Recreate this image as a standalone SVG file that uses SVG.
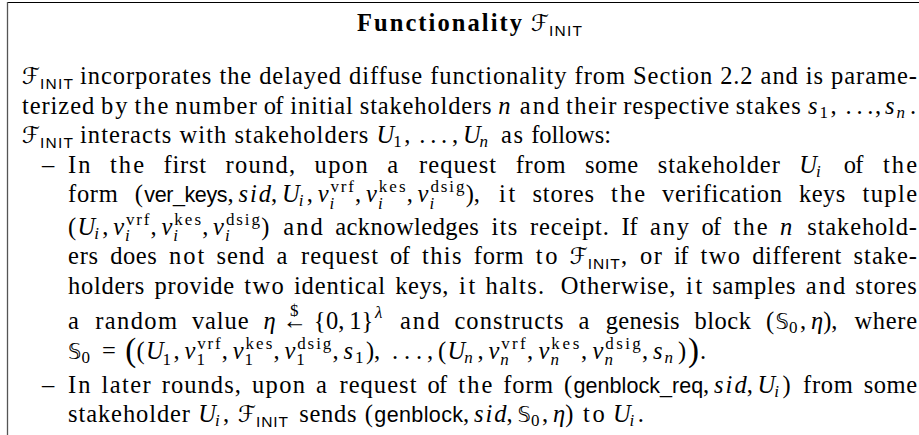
<svg xmlns="http://www.w3.org/2000/svg" width="919" height="435" viewBox="0 0 919 435">
  <style>
    text { font-family: "Liberation Serif", "Times New Roman", serif; font-size: 24.5px; fill: #000; }
    .it { font-style: italic; }
    .sf { font-family: "Liberation Sans", Arial, sans-serif; font-size: 21.5px; font-style: normal; }
    .scr { font-size: 17px; }
    .ssf { font-family: "Liberation Sans", Arial, sans-serif; font-size: 15.5px; font-style: normal; }
    .cal { font-family: "DejaVu Serif", "DejaVu Sans", serif; font-size: 23px; font-style: normal; }
    .bb { font-family: "DejaVu Sans", "DejaVu Serif", sans-serif; font-size: 21px; font-style: normal; }
    .bf { font-weight: bold; }
    .big { font-size: 33px; }
    .rule { stroke: #000; stroke-width: 1; fill: none; }
    .side { stroke: #555; stroke-width: 1.3; fill: none; }
  </style>
  <rect width="919" height="435" fill="#fff"/>

  <!-- frame: top rule and left rule (box continues past the right and bottom edges) -->
  <g id="frame">
    <line class="rule" x1="7" y1="2.5" x2="919" y2="2.5"/>
    <line class="side" x1="7.5" y1="2" x2="7.5" y2="435"/>
  </g>

  <g id="title">
    <text y="31"><tspan x="357" class="bf" textLength="165">Functionality</tspan><tspan x="531" y="31" class="cal">ℱ</tspan><tspan x="549" y="35.5" class="ssf" textLength="33">INIT</tspan></text>
  </g>

  <g id="body">
    <!-- intro paragraph -->
    <text><tspan x="22" y="84" class="cal">ℱ</tspan><tspan x="40" y="88.5" class="ssf" textLength="33">INIT</tspan><tspan x="80" y="84" textLength="837">incorporates the delayed diffuse functionality from Section 2.2 and is parame-</tspan></text>

    <text><tspan x="22" y="113.5" textLength="72.2">terized</tspan><tspan x="101" y="113.5" textLength="26.6">by</tspan><tspan x="134.4" y="113.5" textLength="34">the</tspan><tspan x="175.2" y="113.5" textLength="81.8">number</tspan><tspan x="263.8" y="113.5" textLength="19.7">of</tspan><tspan x="290.3" y="113.5" textLength="62.6">initial</tspan><tspan x="359.8" y="113.5" textLength="131.7">stakeholders</tspan><tspan x="498.3" y="113.5" class="it">n</tspan><tspan x="519.8" y="113.5" textLength="39.5">and</tspan><tspan x="566.1" y="113.5" textLength="50.4">their</tspan><tspan x="623.3" y="113.5" textLength="105.7">respective</tspan><tspan x="735.8" y="113.5" textLength="64.9">stakes</tspan><tspan x="808" y="113.5" class="it">s</tspan><tspan x="819.5" y="117.5" class="scr">1</tspan><tspan x="830.5" y="113.5">,</tspan><tspan x="845.5" y="113.5">.</tspan><tspan x="856.4" y="113.5">.</tspan><tspan x="867.3" y="113.5">.</tspan><tspan x="875" y="113.5">,</tspan><tspan x="885" y="113.5" class="it">s</tspan><tspan x="896.5" y="117.5" class="it scr">n</tspan><tspan x="910" y="113.5">.</tspan></text>

    <text><tspan x="22" y="143" class="cal">ℱ</tspan><tspan x="40" y="147.5" class="ssf" textLength="33">INIT</tspan><tspan x="80" y="143" textLength="288.4">interacts with stakeholders</tspan><tspan x="376.6" y="143" class="it">U</tspan><tspan x="393.3" y="147" class="scr">1</tspan><tspan x="404.3" y="143">,</tspan><tspan x="419.3" y="143">.</tspan><tspan x="430.2" y="143">.</tspan><tspan x="441.1" y="143">.</tspan><tspan x="452" y="143">,</tspan><tspan x="462.9" y="143" class="it">U</tspan><tspan x="479.6" y="147" class="it scr">n</tspan><tspan x="501.1" y="143" textLength="21.9">as</tspan><tspan x="531.2" y="143" textLength="79.8">follows:</tspan></text>

    <!-- first item -->
    <text><tspan x="42" y="172.5">–</tspan><tspan x="68" y="172.5" textLength="22.5">In</tspan><tspan x="110" y="172.5" textLength="34">the</tspan><tspan x="163.6" y="172.5" textLength="42.4">first</tspan><tspan x="225.5" y="172.5" textLength="69.5">round,</tspan><tspan x="314.6" y="172.5" textLength="53.1">upon</tspan><tspan x="387.2" y="172.5">a</tspan><tspan x="419" y="172.5" textLength="77.1">request</tspan><tspan x="515.7" y="172.5" textLength="49.8">from</tspan><tspan x="585" y="172.5" textLength="53.2">some</tspan><tspan x="657.8" y="172.5" textLength="122">stakeholder</tspan><tspan x="799.3" y="172.5" class="it">U</tspan><tspan x="816" y="176.5" class="it scr">i</tspan><tspan x="843.7" y="172.5" textLength="19.7">of</tspan><tspan x="883" y="172.5" textLength="34">the</tspan></text>

    <text><tspan x="68" y="202" textLength="49.8">form</tspan><tspan x="134.8" y="202">(</tspan><tspan x="144.3" y="202" class="sf" textLength="83.2">ver_keys</tspan><tspan x="227.5" y="202">,</tspan><tspan x="238.4" y="202" class="it" textLength="32.7">sid</tspan><tspan x="271.1" y="202">,</tspan><tspan x="282" y="202" class="it">U</tspan><tspan x="298.7" y="206" class="it scr">i</tspan><tspan x="306.8" y="202">,</tspan><tspan x="317.7" y="202" class="it">v</tspan><tspan x="330.5" y="192" class="scr" textLength="23.3">vrf</tspan><tspan x="329.6" y="208.5" class="it scr">i</tspan><tspan x="355" y="202">,</tspan><tspan x="366" y="202" class="it">v</tspan><tspan x="378.8" y="192" class="scr" textLength="26.8">kes</tspan><tspan x="377.9" y="208.5" class="it scr">i</tspan><tspan x="406.8" y="202">,</tspan><tspan x="417.6" y="202" class="it">v</tspan><tspan x="430.4" y="192" class="scr" textLength="34.1">dsig</tspan><tspan x="429.5" y="208.5" class="it scr">i</tspan><tspan x="465.7" y="202">),</tspan><tspan x="499.1" y="202" textLength="16.3">it</tspan><tspan x="532.4" y="202" textLength="61.6">stores</tspan><tspan x="611.1" y="202" textLength="34">the</tspan><tspan x="662.1" y="202" textLength="119.9">verification</tspan><tspan x="799" y="202" textLength="46.4">keys</tspan><tspan x="862.5" y="202" textLength="54.5">tuple</tspan></text>

    <text><tspan x="68" y="234.5">(</tspan><tspan x="77.5" y="234.5" class="it">U</tspan><tspan x="94.2" y="238.5" class="it scr">i</tspan><tspan x="102.3" y="234.5">,</tspan><tspan x="113.2" y="234.5" class="it">v</tspan><tspan x="126" y="224.5" class="scr" textLength="23.3">vrf</tspan><tspan x="125.1" y="241" class="it scr">i</tspan><tspan x="150.5" y="234.5">,</tspan><tspan x="161.4" y="234.5" class="it">v</tspan><tspan x="174.2" y="224.5" class="scr" textLength="26.8">kes</tspan><tspan x="173.3" y="241" class="it scr">i</tspan><tspan x="202.2" y="234.5">,</tspan><tspan x="213.1" y="234.5" class="it">v</tspan><tspan x="225.9" y="224.5" class="scr" textLength="34.1">dsig</tspan><tspan x="225" y="241" class="it scr">i</tspan><tspan x="261.2" y="234.5">)</tspan><tspan x="283.2" y="234.5" textLength="39.5">and</tspan><tspan x="335.2" y="234.5" textLength="143.7">acknowledges</tspan><tspan x="491.4" y="234.5" textLength="26">its</tspan><tspan x="529.9" y="234.5" textLength="79">receipt.</tspan><tspan x="621.4" y="234.5" textLength="16.3">If</tspan><tspan x="650.1" y="234.5" textLength="38.8">any</tspan><tspan x="701.4" y="234.5" textLength="19.7">of</tspan><tspan x="733.6" y="234.5" textLength="34">the</tspan><tspan x="780.1" y="234.5" class="it">n</tspan><tspan x="807.3" y="234.5" textLength="109.7">stakehold-</tspan></text>

    <text><tspan x="68" y="264" textLength="30.1">ers</tspan><tspan x="110.3" y="264" textLength="46.4">does</tspan><tspan x="168.9" y="264" textLength="35.4">not</tspan><tspan x="216.4" y="264" textLength="47.8">send</tspan><tspan x="276.4" y="264">a</tspan><tspan x="300.9" y="264" textLength="77.1">request</tspan><tspan x="390.1" y="264" textLength="19.7">of</tspan><tspan x="422" y="264" textLength="39.6">this</tspan><tspan x="473.8" y="264" textLength="49.8">form</tspan><tspan x="535.8" y="264" textLength="21.8">to</tspan><tspan x="569.8" y="264" class="cal">ℱ</tspan><tspan x="587.8" y="268.5" class="ssf" textLength="32">INIT</tspan><tspan x="620.9" y="264">,</tspan><tspan x="639.9" y="264" textLength="21.9">or</tspan><tspan x="674" y="264" textLength="14.3">if</tspan><tspan x="700.5" y="264" textLength="39.5">two</tspan><tspan x="752.2" y="264" textLength="89.2">different</tspan><tspan x="853.6" y="264" textLength="63.4">stake-</tspan></text>

    <text><tspan x="68" y="293.5" textLength="76.4">holders</tspan><tspan x="154.5" y="293.5" textLength="79.7">provide</tspan><tspan x="244.3" y="293.5" textLength="39.5">two</tspan><tspan x="293.9" y="293.5" textLength="91.2">identical</tspan><tspan x="395.2" y="293.5" textLength="53.2">keys,</tspan><tspan x="459" y="293.5" textLength="16.3">it</tspan><tspan x="485.4" y="293.5" textLength="58.7">halts.</tspan><tspan x="560.8" y="293.5" textLength="114.5">Otherwise,</tspan><tspan x="685.9" y="293.5" textLength="16.3">it</tspan><tspan x="712.3" y="293.5" textLength="83.3">samples</tspan><tspan x="805.7" y="293.5" textLength="39.5">and</tspan><tspan x="855.3" y="293.5" textLength="61.6">stores</tspan></text>

    <text><tspan x="68" y="329">a</tspan><tspan x="95.2" y="329" textLength="81.8">random</tspan><tspan x="192" y="329" textLength="56.5">value</tspan><tspan x="263.5" y="329" class="it">η</tspan><tspan x="282.5" y="329" textLength="24.5">←</tspan><tspan x="290" y="316" class="scr">$</tspan><tspan x="313.8" y="329">{</tspan><tspan x="326" y="329">0</tspan><tspan x="338.3" y="329">,</tspan><tspan x="349.2" y="329">1</tspan><tspan x="361.4" y="329">}</tspan><tspan x="374.9" y="318" class="it scr">λ</tspan><tspan x="399.9" y="329" textLength="39.5">and</tspan><tspan x="454.4" y="329" textLength="109.2">constructs</tspan><tspan x="578.6" y="329">a</tspan><tspan x="605.8" y="329" textLength="73.7">genesis</tspan><tspan x="694.5" y="329" textLength="56.5">block</tspan><tspan x="766" y="329">(</tspan><tspan x="775.5" y="329" class="bb">𝕊</tspan><tspan x="789.1" y="333" class="scr">0</tspan><tspan x="800.1" y="329">,</tspan><tspan x="811" y="329" class="it">η</tspan><tspan x="823.2" y="329">),</tspan><tspan x="854.5" y="329" textLength="62.5">where</tspan></text>

    <text><tspan x="68" y="358.5" class="bb">𝕊</tspan><tspan x="81.6" y="362.5" class="scr">0</tspan><tspan x="101.9" y="358.5">=</tspan><tspan x="125.2" y="361" class="big">(</tspan><tspan x="136.4" y="358.5">(</tspan><tspan x="145.9" y="358.5" class="it">U</tspan><tspan x="162.6" y="365" class="scr">1</tspan><tspan x="173.6" y="358.5">,</tspan><tspan x="184.5" y="358.5" class="it">v</tspan><tspan x="197.3" y="348.5" class="scr" textLength="23.3">vrf</tspan><tspan x="196.4" y="365" class="scr">1</tspan><tspan x="221.8" y="358.5">,</tspan><tspan x="232.7" y="358.5" class="it">v</tspan><tspan x="245.5" y="348.5" class="scr" textLength="26.8">kes</tspan><tspan x="244.6" y="365" class="scr">1</tspan><tspan x="273.5" y="358.5">,</tspan><tspan x="284.4" y="358.5" class="it">v</tspan><tspan x="297.2" y="348.5" class="scr" textLength="34.1">dsig</tspan><tspan x="296.3" y="365" class="scr">1</tspan><tspan x="332.5" y="358.5">,</tspan><tspan x="343.4" y="358.5" class="it">s</tspan><tspan x="354.9" y="362.5" class="scr">1</tspan><tspan x="365.9" y="358.5">),</tspan><tspan x="392" y="358.5">.</tspan><tspan x="404" y="358.5">.</tspan><tspan x="416" y="358.5">.</tspan><tspan x="427" y="358.5">,</tspan><tspan x="438" y="358.5">(</tspan><tspan x="447.5" y="358.5" class="it">U</tspan><tspan x="464.2" y="362.5" class="it scr">n</tspan><tspan x="477.5" y="358.5">,</tspan><tspan x="488.4" y="358.5" class="it">v</tspan><tspan x="501.2" y="348.5" class="scr" textLength="24.5">vrf</tspan><tspan x="500.3" y="365" class="it scr">n</tspan><tspan x="527" y="358.5">,</tspan><tspan x="538.5" y="358.5" class="it">v</tspan><tspan x="551.3" y="348.5" class="scr" textLength="28">kes</tspan><tspan x="550.4" y="365" class="it scr">n</tspan><tspan x="581" y="358.5">,</tspan><tspan x="592.5" y="358.5" class="it">v</tspan><tspan x="605.3" y="348.5" class="scr" textLength="35.5">dsig</tspan><tspan x="604.4" y="365" class="it scr">n</tspan><tspan x="642" y="358.5">,</tspan><tspan x="653" y="358.5" class="it">s</tspan><tspan x="664.5" y="362.5" class="it scr">n</tspan><tspan x="678" y="358.5">)</tspan><tspan x="688" y="361" class="big">)</tspan><tspan x="700" y="358.5">.</tspan></text>

    <!-- second item -->
    <text><tspan x="42" y="392.5">–</tspan><tspan x="68" y="392.5" textLength="22.5">In</tspan><tspan x="101.5" y="392.5" textLength="49.1">later</tspan><tspan x="161.7" y="392.5" textLength="79.2">rounds,</tspan><tspan x="251.9" y="392.5" textLength="53.1">upon</tspan><tspan x="316.1" y="392.5">a</tspan><tspan x="339.4" y="392.5" textLength="77.1">request</tspan><tspan x="427.5" y="392.5" textLength="19.7">of</tspan><tspan x="458.3" y="392.5" textLength="34">the</tspan><tspan x="503.3" y="392.5" textLength="49.8">form</tspan><tspan x="564.1" y="392.5">(</tspan><tspan x="573.6" y="392.5" class="sf" textLength="129.5">genblock_req</tspan><tspan x="703.1" y="392.5">,</tspan><tspan x="714" y="392.5" class="it" textLength="32.7">sid</tspan><tspan x="746.7" y="392.5">,</tspan><tspan x="757.6" y="392.5" class="it">U</tspan><tspan x="774.3" y="396.5" class="it scr">i</tspan><tspan x="782.4" y="392.5">)</tspan><tspan x="803" y="392.5" textLength="49.8">from</tspan><tspan x="863.8" y="392.5" textLength="53.2">some</tspan></text>

    <text><tspan x="68" y="422" textLength="122">stakeholder</tspan><tspan x="198.2" y="422" class="it">U</tspan><tspan x="214.9" y="426" class="it scr">i</tspan><tspan x="223" y="422">,</tspan><tspan x="238" y="422" class="cal">ℱ</tspan><tspan x="256" y="426.5" class="ssf" textLength="32">INIT</tspan><tspan x="299.2" y="422" textLength="57.4">sends</tspan><tspan x="364.8" y="422">(</tspan><tspan x="374.3" y="422" class="sf" textLength="88.7">genblock</tspan><tspan x="463" y="422">,</tspan><tspan x="473.9" y="422" class="it" textLength="32.7">sid</tspan><tspan x="506.6" y="422">,</tspan><tspan x="517.5" y="422" class="bb">𝕊</tspan><tspan x="531.1" y="426" class="scr">0</tspan><tspan x="542.1" y="422">,</tspan><tspan x="553" y="422" class="it">η</tspan><tspan x="565.2" y="422">)</tspan><tspan x="582.9" y="422" textLength="21.8">to</tspan><tspan x="612.9" y="422" class="it">U</tspan><tspan x="629.6" y="426" class="it scr">i</tspan><tspan x="637.7" y="422">.</tspan></text>
  </g>
</svg>
